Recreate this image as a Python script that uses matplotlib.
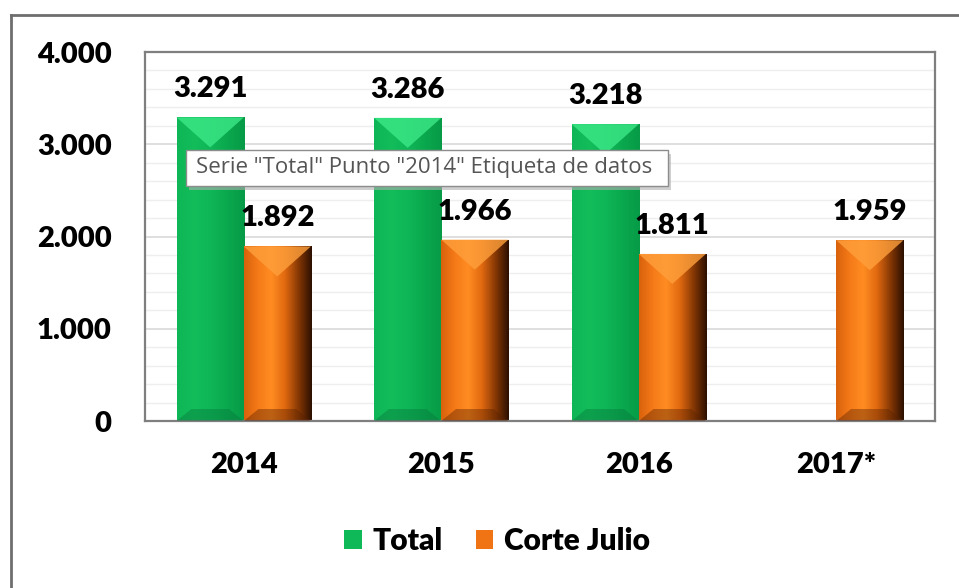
import numpy as np
import matplotlib
matplotlib.use("Agg")
import matplotlib.pyplot as plt
from matplotlib.patches import Rectangle, Polygon, Patch
from matplotlib.colors import LinearSegmentedColormap
from matplotlib.ticker import MultipleLocator, FuncFormatter

plt.rcParams["font.family"] = ["Lato", "DejaVu Sans"]

years = ["2014", "2015", "2016", "2017*"]
total = [3291, 3286, 3218, np.nan]
corte_julio = [1892, 1966, 1811, 1959]
series_names = ["Total", "Corte Julio"]

GREEN = "#10b957"
ORANGE = "#f07414"
WEIGHT = "heavy"
green_cmap = LinearSegmentedColormap.from_list(
    "g", ["#0fb657", "#12bd5a", "#0fb657", "#0aa84e", "#079b47"])
orange_cmap = LinearSegmentedColormap.from_list(
    "o", ["#d9620c", "#f57a18", "#ff8c22", "#e26a10", "#8a3a05", "#2e1000"])


def fmt_thousands(v):
    return f"{int(round(v)):,}".replace(",", ".")


def bevel_bar(ax, x0, width, h, cmap, top_col, bot_col, px_y):
    """Bar with a horizontal gradient, a V-shaped top bevel and a small base bevel."""
    if not np.isfinite(h) or h <= 0:
        return
    x1 = x0 + width
    rect = Rectangle((x0, 0), width, h, facecolor="none", edgecolor="none")
    ax.add_patch(rect)
    grad = np.linspace(0, 1, 64).reshape(1, -1)
    im = ax.imshow(grad, cmap=cmap, extent=(x0, x1, 0, h), aspect="auto",
                   origin="lower", zorder=2, interpolation="bilinear")
    im.set_clip_path(rect)
    xc = (x0 + x1) / 2
    d = 30 * px_y
    ax.add_patch(Polygon([(x0, h), (x1, h), (xc, h - d)], closed=True,
                         facecolor=top_col, edgecolor="none", alpha=0.8, zorder=3))
    b = 12 * px_y
    inset = width * 0.22
    ax.add_patch(Polygon([(x0, 0), (x1, 0), (x1 - inset, b), (x0 + inset, b)],
                         closed=True, facecolor=bot_col, edgecolor="none",
                         alpha=0.4, zorder=3))


fig = plt.figure(figsize=(9.59, 5.88), dpi=100)
ax = fig.add_axes([145 / 959, 167 / 588, 790 / 959, 369 / 588])

ax.set_xlim(-0.5, len(years) - 0.5)
ax.set_ylim(0, 4000)
ax.set_xticks(range(len(years)))
ax.set_xticklabels(years)
ax.yaxis.set_major_locator(MultipleLocator(1000))
ax.yaxis.set_minor_locator(MultipleLocator(200))
ax.yaxis.set_major_formatter(FuncFormatter(lambda v, p: fmt_thousands(v)))
ax.grid(axis="y", which="major", color="#d9d9d9", lw=1.2, zorder=0)
ax.grid(axis="y", which="minor", color="#eeeeee", lw=1.0, zorder=0)
ax.set_axisbelow(True)
ax.tick_params(axis="both", which="both", length=0)
ax.tick_params(axis="y", pad=24, labelsize=21)
ax.tick_params(axis="x", pad=22, labelsize=21)
for lbl in ax.get_xticklabels() + ax.get_yticklabels():
    lbl.set_fontweight(WEIGHT)
for s in ax.spines.values():
    s.set_color("#7f7f7f")
    s.set_linewidth(1.6)

px_y = 4000 / 369
bw = 0.34
x = np.arange(len(years))
for i in range(len(years)):
    bevel_bar(ax, x[i] - bw, bw, total[i], green_cmap, "#3ce887", "#06753a", px_y)
    bevel_bar(ax, x[i], bw, corte_julio[i], orange_cmap, "#ffa03c", "#5a2200", px_y)
    if np.isfinite(total[i]):
        ax.text(x[i] - bw / 2, total[i] + 15 * px_y, fmt_thousands(total[i]),
                ha="center", va="bottom", fontsize=21, fontweight=WEIGHT, zorder=5)
    ax.text(x[i] + bw / 2, corte_julio[i] + 15 * px_y, fmt_thousands(corte_julio[i]),
            ha="center", va="bottom", fontsize=21, fontweight=WEIGHT, zorder=5)

ax.set_xlim(-0.5, len(years) - 0.5)
ax.set_ylim(0, 4000)

handles = [Patch(facecolor=GREEN, edgecolor="none"),
           Patch(facecolor=ORANGE, edgecolor="none")]
leg = fig.legend(handles, series_names, loc="center", bbox_to_anchor=(497 / 959, 1 - 541 / 588),
                 ncol=2, frameon=False, handlelength=0.6, handleheight=0.6,
                 handletextpad=0.35, columnspacing=1.1,
                 prop={"size": 21.5, "weight": WEIGHT})

# hover tooltip over the first bar
shadow = Rectangle((189 / 959, 1 - 190 / 588), 482 / 959, 36 / 588,
                   transform=fig.transFigure, facecolor="#b0b0b0", edgecolor="none",
                   alpha=0.6, zorder=9)
tip = Rectangle((186 / 959, 1 - 186 / 588), 482 / 959, 36 / 588,
                transform=fig.transFigure, facecolor="white", edgecolor="#8c8c8c",
                lw=1.0, zorder=10)
fig.add_artist(shadow)
fig.add_artist(tip)
fig.text(196 / 959, 1 - 168 / 588, 'Serie "Total" Punto "2014" Etiqueta de datos',
         ha="left", va="center", fontsize=16, color="#555555",
         family=["Open Sans", "DejaVu Sans"], zorder=11)

# outer chart frame
fig.add_artist(plt.Line2D([11 / 959, 11 / 959], [0, 1 - 15 / 588],
                          transform=fig.transFigure, color="#6e6e6e", lw=2))
fig.add_artist(plt.Line2D([11 / 959, 1], [1 - 15 / 588, 1 - 15 / 588],
                          transform=fig.transFigure, color="#6e6e6e", lw=2))

fig.savefig("out.png", dpi=100)
